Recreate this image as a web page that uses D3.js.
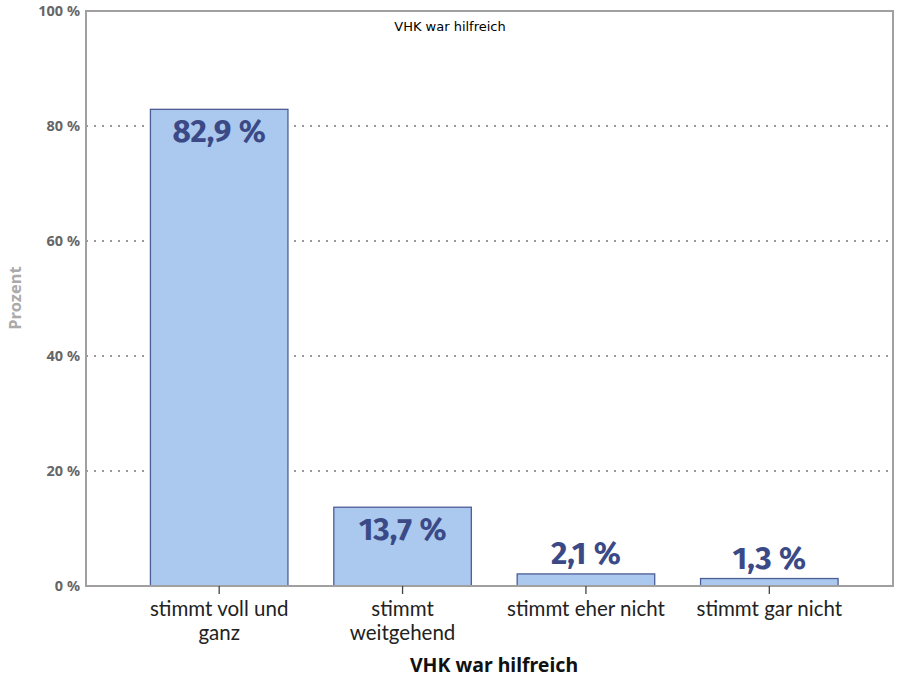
<!DOCTYPE html>
<html><head><meta charset="utf-8">
<script src="https://cdn.jsdelivr.net/npm/d3@7"></script>
<style>body{margin:0;background:#fff;} svg{display:block;}</style>
</head><body>
<svg id="c" width="904" height="678"></svg>
<script>
const categories = [["stimmt voll und","ganz"],["stimmt","weitgehend"],["stimmt eher nicht"],["stimmt gar nicht"]];
const values = [82.9, 13.7, 2.1, 1.3];
const labels = ["82,9 %","13,7 %","2,1 %","1,3 %"];
const yTicks = [0,20,40,60,80,100];
const title = "VHK war hilfreich";
const xTitle = "VHK war hilfreich";
const yTitle = "Prozent";

const svg = d3.select("#c");
const L=86, R=893, T=11, B=586;
const y = d3.scaleLinear().domain([0,100]).range([B,T]);
const x = d3.scaleBand().domain(d3.range(values.length)).range([127.5,861]).paddingInner(0.25).paddingOuter(0.125);

// gridlines
svg.append("g").selectAll("line").data(yTicks.filter(d=>d>0&&d<100)).join("line")
  .attr("x1",L).attr("x2",R).attr("y1",d=>y(d)).attr("y2",d=>y(d))
  .attr("stroke","#999").attr("stroke-width",2).attr("stroke-dasharray","2,6");

// bars
svg.append("g").selectAll("rect").data(values).join("rect")
  .attr("x",(d,i)=>x(i)).attr("width",x.bandwidth())
  .attr("y",d=>y(d)).attr("height",d=>B-y(d))
  .attr("fill","#abc9ee").attr("stroke","#4d5d96").attr("stroke-width",1.3);

// frame
svg.append("rect").attr("x",L).attr("y",T).attr("width",R-L).attr("height",B-T)
  .attr("fill","none").attr("stroke","#a0a0a0").attr("stroke-width",2);

// value labels
svg.append("g").selectAll("text").data(values).join("text")
  .attr("x",(d,i)=>x(i)+x.bandwidth()/2)
  .attr("y",d=> (B-y(d))>40 ? y(d)+33 : y(d)-10)
  .attr("text-anchor","middle")
  .attr("font-family","'Fira Sans','Noto Sans','Open Sans',sans-serif")
  .attr("font-weight","bold").attr("font-size",31.5).attr("fill","#3b4a86")
  .text((d,i)=>labels[i]);

// y axis labels
svg.append("g").selectAll("text").data(yTicks).join("text")
  .attr("x",L-6).attr("y",d=>y(d)+5).attr("text-anchor","end")
  .attr("font-family","'Noto Sans','Open Sans',sans-serif").attr("font-weight","bold")
  .attr("font-size",14.5).attr("fill","#666").text(d=>d+" %");

// x ticks
svg.append("g").selectAll("line").data(values).join("line")
  .attr("x1",(d,i)=>x(i)+x.bandwidth()/2).attr("x2",(d,i)=>x(i)+x.bandwidth()/2)
  .attr("y1",B).attr("y2",B+8).attr("stroke","#444").attr("stroke-width",1.3);

// x tick labels
const xl = svg.append("g").selectAll("text").data(categories).join("text")
  .attr("text-anchor","middle")
  .attr("font-family","Lato,'Noto Sans',sans-serif")
  .attr("font-size",20.5).attr("fill","#222");
xl.each(function(lines,i){
  d3.select(this).selectAll("tspan").data(lines).join("tspan")
    .attr("x",x(i)+x.bandwidth()/2).attr("y",(l,j)=>615.5+j*24.7).text(l=>l);
});

// axis titles
svg.append("text").attr("x",494).attr("y",672).attr("text-anchor","middle")
  .attr("font-family","'Noto Sans','Open Sans',sans-serif").attr("font-weight","bold")
  .attr("font-size",19.5).attr("fill","#111").text(xTitle);
svg.append("text").attr("transform","translate(21,298) rotate(-90)").attr("text-anchor","middle")
  .attr("font-family","'Noto Sans','Open Sans',sans-serif").attr("font-weight","bold")
  .attr("font-size",16.5).attr("fill","#aaa").text(yTitle);
svg.append("text").attr("x",450).attr("y",31).attr("text-anchor","middle")
  .attr("font-family","'DejaVu Sans',sans-serif")
  .attr("font-size",13).attr("fill","#000").text(title);
</script>
</body></html>
